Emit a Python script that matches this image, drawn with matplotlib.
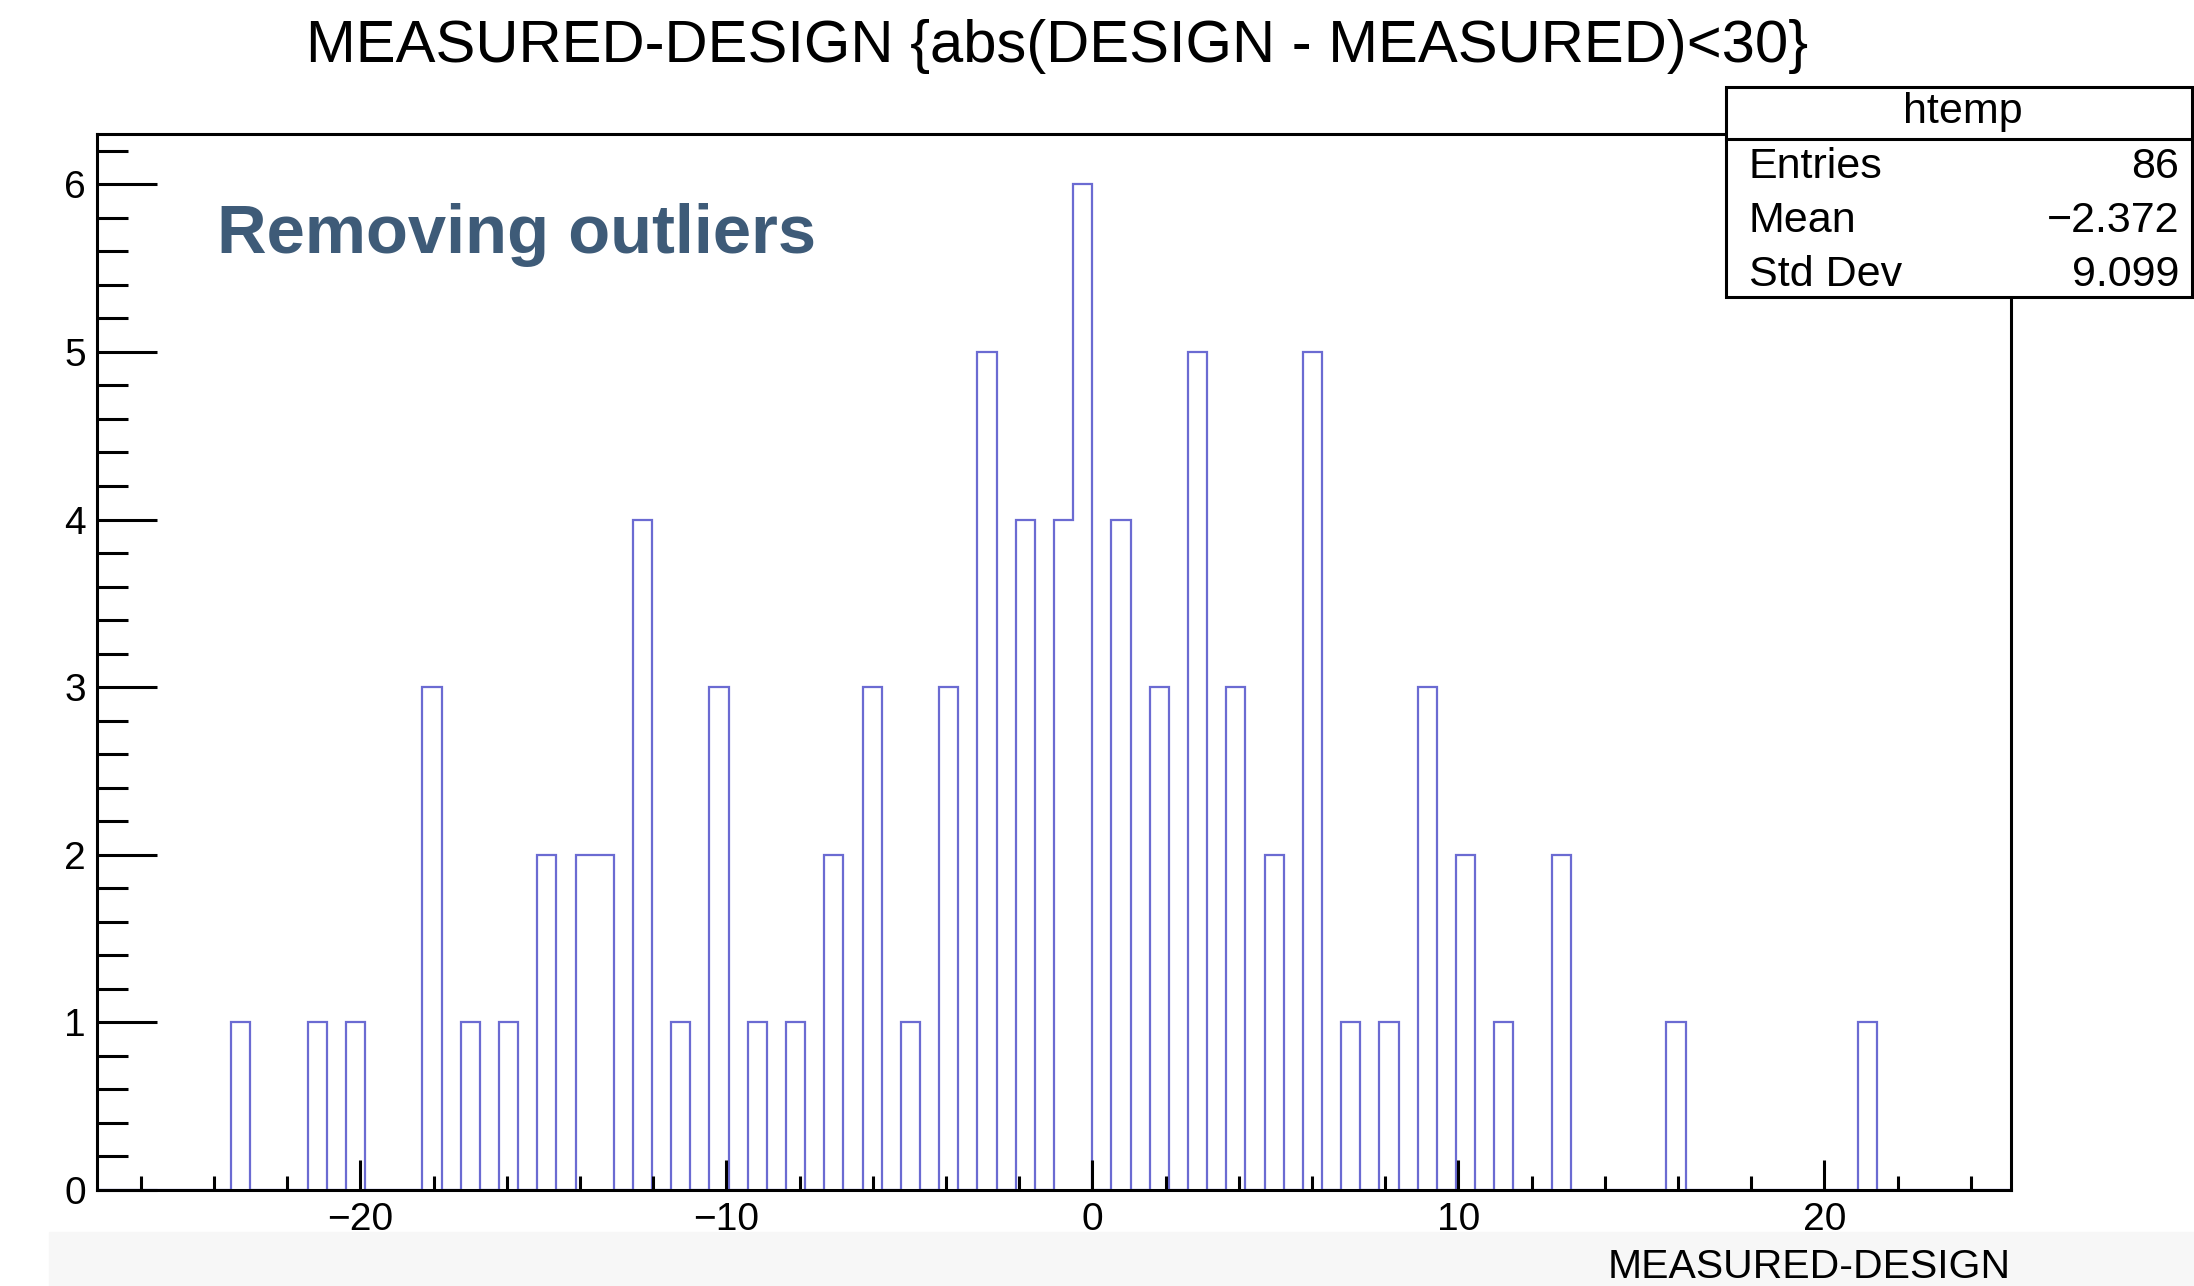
import numpy as np
import matplotlib.pyplot as plt
from matplotlib.patches import Rectangle
from matplotlib.lines import Line2D
from matplotlib.ticker import MultipleLocator

plt.rcParams['font.family'] = ['Liberation Sans', 'DejaVu Sans']

# histogram binning (100 bins, like ROOT's htemp)
x_min = -27.2
x_max = 25.1
n_bins = 100

# filled bins: bin index and count
bin_index = [7, 11, 13, 17, 19, 21, 23, 25, 26, 28, 30, 32, 34, 36, 38, 40,
             42, 44, 46, 48, 50, 51, 53, 55, 57, 59, 61, 63, 65, 67, 69, 71,
             73, 76, 82, 92]
bin_count = [1, 1, 1, 3, 1, 1, 2, 2, 2, 4, 1, 3, 1, 1, 2, 3,
             1, 3, 5, 4, 4, 6, 4, 3, 5, 3, 2, 5, 1, 1, 3, 2,
             1, 2, 1, 1]

stats_labels = ['Entries', 'Mean', 'Std Dev']
stats_values = ['86', '\u22122.372', '9.099']

edges = np.linspace(x_min, x_max, n_bins + 1)
counts = np.zeros(n_bins)
counts[bin_index] = bin_count

W, H = 2194, 1286
fig = plt.figure(figsize=(W / 100, H / 100), dpi=100)

# light grey strip at the bottom
fig.patches.append(Rectangle((49 / W, 0), 1 - 49 / W, 54 / H,
                             transform=fig.transFigure, color='#f7f7f7',
                             zorder=-10))

ax = fig.add_axes([97 / W, 1 - 1190 / H, (2011 - 97) / W, (1190 - 134) / H])
ax.stairs(counts, edges, color='#6b6bd2', lw=1.6, baseline=0)

ax.set_xlim(x_min, x_max)
ax.set_ylim(0, 6.3)

ax.xaxis.set_major_locator(MultipleLocator(10))
ax.xaxis.set_minor_locator(MultipleLocator(2))
ax.yaxis.set_major_locator(MultipleLocator(1))
ax.yaxis.set_minor_locator(MultipleLocator(0.2))

ax.tick_params(axis='x', which='major', direction='in', length=21.5, width=2.2,
               labelsize=28, pad=9)
ax.tick_params(axis='x', which='minor', direction='in', length=10, width=2.2)
ax.tick_params(axis='y', which='major', direction='in', length=43, width=2.2,
               labelsize=28, pad=8)
ax.tick_params(axis='y', which='minor', direction='in', length=22, width=2.2)
for s in ax.spines.values():
    s.set_linewidth(2.2)

fig.text(1057 / W, 1 - 46 / H, 'MEASURED-DESIGN {abs(DESIGN - MEASURED)<30}',
         ha='center', va='center', fontsize=43)
fig.text(2011 / W, 1 - 1267 / H, 'MEASURED-DESIGN', ha='right', va='center',
         fontsize=29.5)

fig.text(217 / W, 1 - 253 / H, 'Removing outliers', ha='left', va='baseline',
         fontsize=49.5, fontweight='bold', color='#3e5b78')

# stats box
bx0, bx1, by0, by1 = 1726, 2192, 87, 297
fig.patches.append(Rectangle((bx0 / W, 1 - by1 / H), (bx1 - bx0) / W,
                             (by1 - by0) / H, transform=fig.transFigure,
                             facecolor='white', edgecolor='black', lw=2.2,
                             zorder=5))
fig.lines.append(Line2D([bx0 / W, bx1 / W], [1 - 139 / H, 1 - 139 / H],
                        transform=fig.transFigure, color='black', lw=2.2,
                        zorder=6))
fig.text(1963 / W, 1 - 112 / H, 'htemp', ha='center', va='center',
         fontsize=31, zorder=7)
for i, (lab, val) in enumerate(zip(stats_labels, stats_values)):
    y = 1 - (167 + i * 54) / H
    fig.text(1749 / W, y, lab, ha='left', va='center', fontsize=31, zorder=7)
    fig.text(2179 / W, y, val, ha='right', va='center', fontsize=31, zorder=7)

fig.savefig('out.png', dpi=100)
plt.close(fig)
